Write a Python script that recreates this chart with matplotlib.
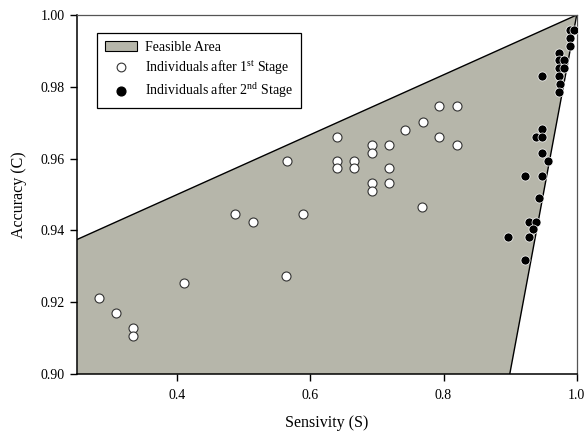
import matplotlib
matplotlib.use("Agg")
import matplotlib.pyplot as plt
from matplotlib.patches import Polygon, Patch
from matplotlib.lines import Line2D

plt.rcParams['font.family'] = ['Liberation Serif', 'DejaVu Serif']
plt.rcParams['mathtext.fontset'] = 'custom'
plt.rcParams['mathtext.rm'] = 'Liberation Serif'

# Feasible area boundary (S, C)
area_s = [0.25, 1.0, 0.8995, 0.25]
area_c = [0.9375, 1.0, 0.90, 0.90]

# Individuals after 1st stage
s1 = [0.2821, 0.3081, 0.3332, 0.3332, 0.4102, 0.4868, 0.5134, 0.5634, 0.5645, 0.5894,
      0.6404, 0.6404, 0.6404, 0.6660, 0.6660, 0.6921, 0.6921, 0.6921, 0.6921, 0.7176,
      0.7176, 0.7176, 0.7426, 0.7681, 0.7687, 0.7936, 0.7936, 0.8197, 0.8197]
c1 = [0.9212, 0.9170, 0.9127, 0.9106, 0.9253, 0.9445, 0.9424, 0.9274, 0.9594, 0.9445,
      0.9659, 0.9594, 0.9573, 0.9594, 0.9573, 0.9638, 0.9616, 0.9531, 0.9510, 0.9638,
      0.9573, 0.9531, 0.9681, 0.9466, 0.9702, 0.9659, 0.9747, 0.9638, 0.9747]

# Individuals after 2nd stage
s2 = [0.9894, 0.9955, 0.9894, 0.9894, 0.9729, 0.9729, 0.9804, 0.9729, 0.9804, 0.9479,
      0.9729, 0.9753, 0.9729, 0.9474, 0.9384, 0.9474, 0.9474, 0.9573, 0.9223, 0.9474,
      0.9437, 0.9288, 0.9389, 0.9339, 0.8972, 0.9288, 0.9223]
c2 = [0.9959, 0.9959, 0.9937, 0.9914, 0.9895, 0.9875, 0.9875, 0.9852, 0.9852, 0.9830,
      0.9830, 0.9808, 0.9786, 0.9682, 0.9661, 0.9661, 0.9616, 0.9594, 0.9552, 0.9552,
      0.9489, 0.9424, 0.9424, 0.9403, 0.9381, 0.9381, 0.9318]

x_ticks = [0.4, 0.6, 0.8, 1.0]
y_ticks = [0.90, 0.92, 0.94, 0.96, 0.98, 1.00]

fig = plt.figure(figsize=(5.87, 4.32), dpi=100)
ax = fig.add_axes([77.3/587, 1-374/432, (576.7-77.3)/587, (374-15)/432])

fill = '#b6b6aa'
poly = Polygon(list(zip(area_s, area_c)), closed=True, facecolor=fill, edgecolor='none',
               zorder=1)
ax.add_patch(poly)
ax.plot([area_s[0], area_s[1], area_s[2]], [area_c[0], area_c[1], area_c[2]],
        color='black', lw=1.0, zorder=2)

ax.scatter(s1, c1, s=42, facecolor='white', edgecolor='#333333', linewidths=0.8, zorder=3)
ax.scatter(s2, c2, s=42, facecolor='black', edgecolor='white', linewidths=0.5, zorder=3)

ax.set_xlim(0.25, 1.0)
ax.set_ylim(0.90, 1.00)
ax.set_xticks(x_ticks)
ax.set_xticklabels(['%.1f' % v for v in x_ticks])
ax.set_yticks(y_ticks)
ax.set_yticklabels(['%.2f' % v for v in y_ticks])
ax.tick_params(direction='out', length=5, width=1, labelsize=10, top=False, right=False)
ax.tick_params(axis='x', pad=6)
ax.tick_params(axis='y', pad=4)
for sp in ['left', 'bottom']:
    ax.spines[sp].set_linewidth(1.1)
for sp in ['top', 'right']:
    ax.spines[sp].set_linewidth(0.9)
    ax.spines[sp].set_color('#555555')

ax.set_xlabel('Sensivity (S)', fontsize=11.5, labelpad=9)
ax.set_ylabel('Accuracy (C)', fontsize=11.5, labelpad=10)

handles = [
    Patch(facecolor=fill, edgecolor='black', linewidth=0.8),
    Line2D([], [], marker='o', ls='none', markersize=6.3, markerfacecolor='white',
           markeredgecolor='#333333', markeredgewidth=0.8),
    Line2D([], [], marker='o', ls='none', markersize=6.3, markerfacecolor='black',
           markeredgecolor='black'),
]
labels = ['Feasible Area', r'Individuals after 1$^{\mathrm{st}}$ Stage',
          r'Individuals after 2$^{\mathrm{nd}}$ Stage']
leg = ax.legend(handles, labels, loc='upper left', bbox_to_anchor=(0.04, 0.95),
                fontsize=10, frameon=True, fancybox=False, edgecolor='black',
                framealpha=1, borderpad=0.55, labelspacing=0.3, handlelength=2.3,
                handletextpad=0.6, borderaxespad=0)
leg.get_frame().set_linewidth(0.9)

fig.savefig('out.png', dpi=100, facecolor='white')
